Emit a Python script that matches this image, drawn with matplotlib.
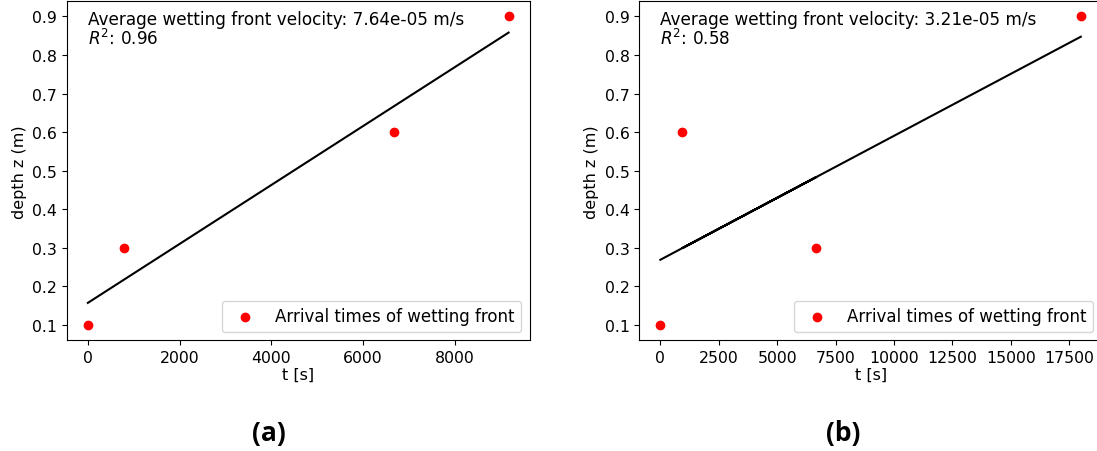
import matplotlib
matplotlib.use("Agg")
import matplotlib.pyplot as plt
import numpy as np

plt.rcParams["font.family"] = "DejaVu Sans"

# depth of sensors and arrival times of the wetting front
depth = [0.1, 0.3, 0.6, 0.9]
t_a = [0, 780, 6670, 9170]
t_b = [0, 6680, 940, 18000]

vel_a, r2_a = "7.64e-05", "0.96"
vel_b, r2_b = "3.21e-05", "0.58"

fig = plt.figure(figsize=(10.97, 4.52), dpi=100)
ax1 = fig.add_axes([0.0609, 0.2445, 0.4219, 0.751])
ax2 = fig.add_axes([0.5828, 0.2445, 0.4216, 0.751])

for ax, t, vel, r2 in [(ax1, t_a, vel_a, r2_a), (ax2, t_b, vel_b, r2_b)]:
    t = np.array(t)
    coef = np.polyfit(t, depth, 1)
    ax.scatter(t, depth, color="red", label="Arrival times of wetting front")
    ax.plot(t, np.polyval(coef, t), color="black", lw=1.5)
    ax.text(0.045, 0.975, "Average wetting front velocity: %s m/s\n$R^2$: %s" % (vel, r2),
            transform=ax.transAxes, va="top", ha="left", fontsize=12.2, linespacing=1.0)
    ax.set_xlabel("t [s]", fontsize=11.5, labelpad=1)
    ax.set_ylabel("depth z (m)", fontsize=11.5)
    ax.tick_params(labelsize=11.3)
    ax.legend(loc="lower right", fontsize=12)

fig.text(269 / 1097, 0.04, "(a)", fontsize=19, fontweight="bold", family="Open Sans",
         ha="center", va="center")
fig.text(843 / 1097, 0.04, "(b)", fontsize=19, fontweight="bold", family="Open Sans",
         ha="center", va="center")

fig.savefig("out.png", dpi=100)
